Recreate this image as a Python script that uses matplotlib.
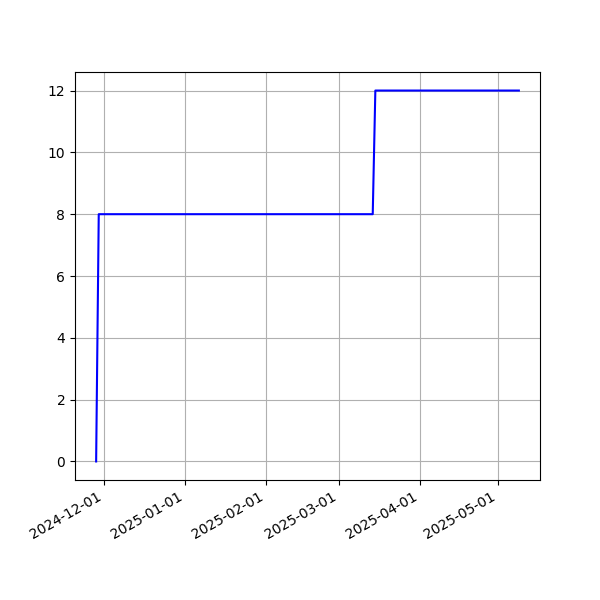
import numpy as np
import pandas as pd
import matplotlib
matplotlib.use('Agg')
import matplotlib.pyplot as plt
import matplotlib.dates as mdates

dates = pd.to_datetime(['2024-11-28', '2024-11-29', '2025-03-14', '2025-03-15', '2025-05-09'])
values = [0, 8, 8, 12, 12]

fig, ax = plt.subplots(figsize=(6, 6), dpi=100)
ax.plot(dates, values, color='blue')
ax.grid(True)
ax.xaxis.set_major_locator(mdates.MonthLocator())
ax.xaxis.set_major_formatter(mdates.DateFormatter('%Y-%m-%d'))
fig.autofmt_xdate()

fig.savefig('out.png')
